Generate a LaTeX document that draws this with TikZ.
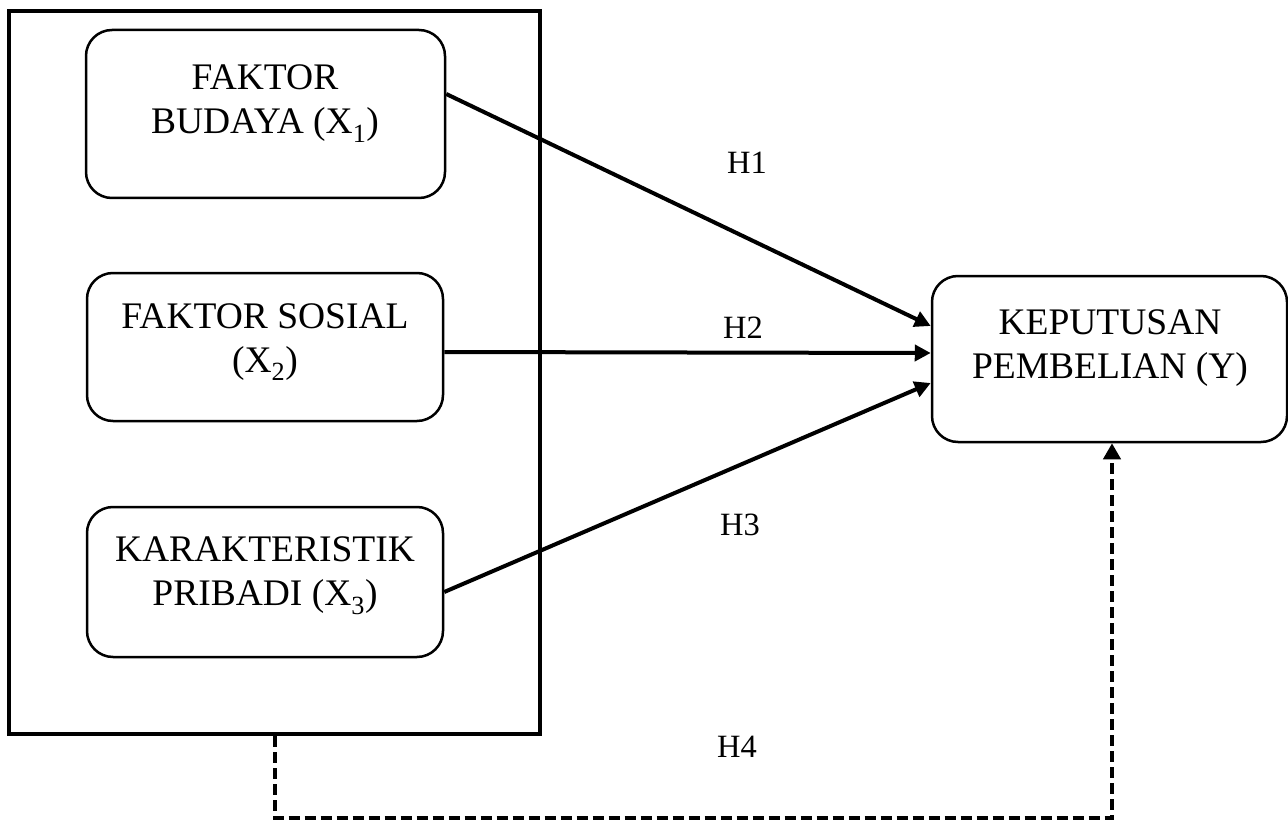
\documentclass[tikz,border=0pt]{standalone}
\usepackage{fontspec}
\setmainfont{Liberation Serif}
\usetikzlibrary{arrows.meta,calc}
\begin{document}
\begin{tikzpicture}[x=1pt,y=-1pt,
  box/.style={draw,line width=2.5pt,rounded corners=26pt,inner sep=0},
  btext/.style={align=center,font=\fontsize{37.5}{44}\selectfont,inner sep=0},
  hlab/.style={font=\fontsize{32.5}{38}\selectfont,inner sep=0},
  conn/.style={line width=4pt,-{Triangle[length=16pt,width=16pt]}},
  outerframe/.style={draw,line width=4pt,inner sep=0},
  dconn/.style={line width=4pt,dash pattern=on 11pt off 5pt,-{Triangle[length=16pt,width=17pt]}}
]
\useasboundingbox (0,0) rectangle (1288,821);
\node[outerframe,minimum width=531pt,minimum height=723pt] (frame) at (274.5,372.5) {};
\node[box,minimum width=359pt,minimum height=168pt] (b1) at (265.5,114) {};
\node[box,minimum width=356pt,minimum height=148pt] (b2) at (265,347) {};
\node[box,minimum width=356pt,minimum height=150pt] (b3) at (265,582) {};
\node[box,minimum width=355pt,minimum height=166pt] (by) at (1109.5,359) {};
\node[btext] (t1) at (265,103.5) {FAKTOR\\BUDAYA (X\textsubscript{1})};
\node[btext] (t2) at (265,342) {FAKTOR SOSIAL\\(X\textsubscript{2})};
\node[btext] (t3) at (265,576) {KARAKTERISTIK\\PRIBADI (X\textsubscript{3})};
\node[btext] (ty) at (1110,348) {KEPUTUSAN\\PEMBELIAN (Y)};
\node[hlab] (h1) at (747,163) {H1};
\node[hlab] (h2) at (743,328) {H2};
\node[hlab] (h3) at (740,525) {H3};
\node[hlab] (h4) at (737,747) {H4};
\draw[conn] ($(b1.east)+(0,-20)$) -- ($(by.west)+(0,-33)$);
\draw[conn] ($(b2.east)+(0,5)$) -- ($(by.west)+(0,-6)$);
\draw[conn] ($(b3.east)+(0,10)$) -- ($(by.west)+(0,24)$);
\coordinate (dcorner) at (274.5,818);
\draw[dconn] (frame.south) -- (dcorner) -| ($(by.south)+(2.5,0)$);
\end{tikzpicture}
\end{document}
